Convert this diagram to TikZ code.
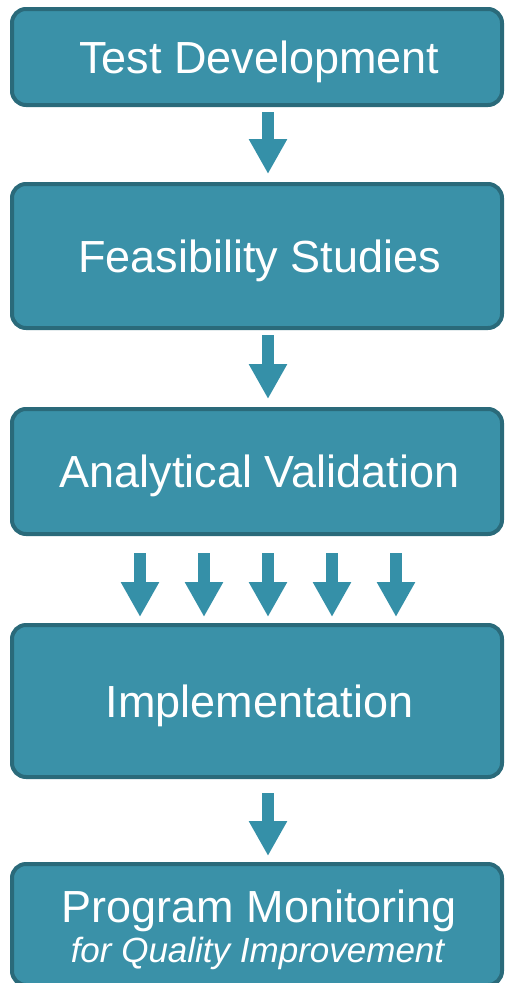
\documentclass[tikz,border=0pt]{standalone}
\usepackage{fontspec}
\setmainfont{Liberation Sans}
\usetikzlibrary{arrows.meta}
\definecolor{boxfill}{RGB}{58,145,168}
\definecolor{boxedge}{RGB}{42,106,122}
\definecolor{arrowteal}{RGB}{53,144,168}
\begin{document}
\begin{tikzpicture}[x=1pt,y=-1pt,
  stage/.style={draw=boxedge, fill=boxfill, line width=4pt, rounded corners=14pt,
    minimum width=490pt, inner sep=0pt, text=white,
    font=\fontsize{45}{52}\selectfont, text height=32pt, text depth=0pt},
  caption/.style={text=white, inner sep=0pt, anchor=base},
  flow/.style={draw=arrowteal, line width=12pt, -{Triangle[width=36pt,length=35pt]}}]
\useasboundingbox (0,0) rectangle (504,983);

% stages
\node[stage, minimum height=96pt]  (dev)  at (257,57)    {\hspace{5pt}Test Development};
\node[stage, minimum height=144pt] (feas) at (257,256)   {\hspace{5pt}Feasibility Studies};
\node[stage, minimum height=125pt] (val)  at (257,471.5) {\hspace{5pt}Analytical Validation};
\node[stage, minimum height=152pt] (impl) at (257,701)   {\hspace{5pt}Implementation};
\node[stage, minimum height=121pt] (mon)  at (257,924.5) {};
\node[caption, font=\fontsize{45}{52}\selectfont] (monA) at (259.5,922)
  {Program Monitoring};
\node[caption, font=\fontsize{35}{40}\selectfont\itshape] (monB) at (257.5,962)
  {for Quality Improvement};

% flow arrows
\draw[flow, shorten <=5pt, shorten >=8pt] ([xshift=11pt]dev.south) -- ([xshift=11pt]feas.north);
\draw[flow, shorten <=5pt, shorten >=8pt] ([xshift=11pt]feas.south) -- ([xshift=11pt]val.north);
\foreach \dx in {-117,-53,11,75,139}
  \draw[flow, shorten <=17pt, shorten >=6pt] ([xshift=\dx pt]val.south) -- ([xshift=\dx pt]impl.north);
\draw[flow, shorten <=14pt, shorten >=6pt] ([xshift=11pt]impl.south) -- ([xshift=11pt]mon.north);
\end{tikzpicture}
\end{document}
